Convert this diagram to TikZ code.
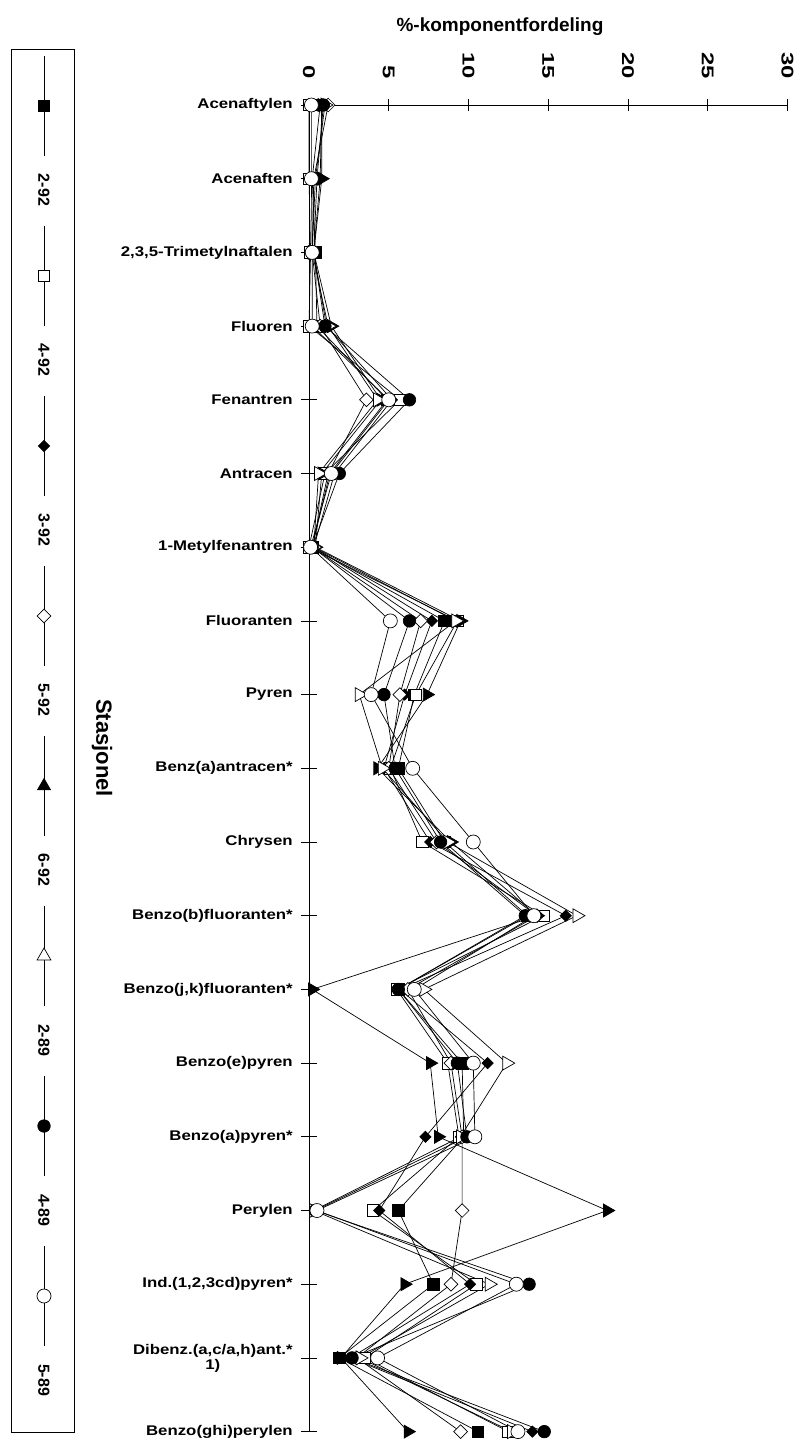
\documentclass[tikz,border=0pt]{standalone}
\usepackage{fontspec}
\setmainfont{Liberation Sans}
\newfontfamily\catfont{Liberation Sans}[FakeStretch=1.2]
\newfontfamily\tickfont{Liberation Sans}[FakeStretch=1.4]
\usetikzlibrary{positioning, shapes.geometric}

% number / station / marker / values (one per component, top to bottom)
\newcommand{\stationdata}{%
  1/2-92/sqfill/{0.7,0.2,0.4,0.5,4.9,1.3,0.2,8.5,6.6,5.6,8.5,13.7,5.6,9.6,9.7,5.6,7.8,1.9,10.6},
  2/4-92/sqopen/{0,0,0.1,0,5.7,1.0,0,9.3,6.7,5.1,7.1,14.7,5.5,8.7,9.4,4.0,10.5,3.5,12.5},
  3/3-92/dmfill/{0.8,0.7,0.3,1.1,5.2,1.6,0.3,7.7,6.0,4.7,7.6,16.1,5.7,11.2,7.3,4.4,10.1,2.6,14.0},
  4/5-92/dmopen/{1.2,0.3,0.2,0.7,3.6,1.2,0.2,7.0,5.7,5.0,8.0,14.3,6.2,8.9,9.6,9.6,8.9,3.0,9.5},
  5/6-92/trfill/{0.8,0.8,0.3,1.4,4.5,0.8,0.4,9.5,7.4,4.3,8.9,14.3,0.2,7.6,8.1,18.7,6.0,2.0,6.2},
  6/2-89/tropen/{1.0,0.4,0.2,1.2,4.3,0.6,0.3,9.2,3.15,4.6,8.7,16.8,7.2,12.4,9.5,0.3,11.3,3.2,12.7},
  7/4-89/cifill/{0.9,0.5,0.3,1.0,6.3,1.9,0.2,6.3,4.7,5.4,8.25,13.56,5.6,9.3,9.9,0.4,13.8,2.7,14.75},
  8/5-89/ciopen/{0.15,0.15,0.2,0.2,5.0,1.4,0.1,5.1,3.9,6.5,10.3,14.1,6.6,10.3,10.4,0.5,13.0,4.3,13.1}}

\begin{document}
\begin{tikzpicture}[x=1pt, y=-1pt, line width=0.7pt,
    mk/.style={draw, line width=0.7pt, inner sep=0pt},
    sqfill/.style={mk, rectangle, fill=black, minimum size=11.5pt},
    sqopen/.style={mk, rectangle, fill=white, minimum size=11.5pt},
    dmfill/.style={mk, diamond, fill=black, minimum size=11.5pt},
    dmopen/.style={mk, diamond, fill=white, minimum size=14pt},
    trfill/.style={mk, regular polygon, regular polygon sides=3, shape border rotate=-90, fill=black, minimum size=15pt},
    tropen/.style={mk, regular polygon, regular polygon sides=3, shape border rotate=-90, fill=white, minimum size=16pt},
    cifill/.style={mk, circle, fill=black, minimum size=12.5pt},
    ciopen/.style={mk, circle, fill=white, minimum size=14pt},
    catlabel/.style={anchor=east, inner sep=0pt, align=center, font=\catfont\bfseries\fontsize{14}{15}\selectfont},
    ticklabel/.style={rotate=-90, anchor=east, inner sep=0pt, font=\tickfont\bfseries\fontsize{17}{18}\selectfont},
    leglabel/.style={rotate=-90, inner sep=0pt, font=\bfseries\fontsize{16}{18}\selectfont}]
  \useasboundingbox (0,0) rectangle (800,1439);

  % Title and axes
  \node (title) at (500,27) [font=\bfseries\fontsize{19}{21}\selectfont] {\%-komponentfordeling};
  \coordinate (origin) at (309,105);
  \coordinate (xend) at (787.5,105);
  \coordinate (yend) at (309,1432);
  \draw (origin) -- (xend);
  \draw (origin) -- (yend);
  \foreach \t in {0,5,...,30} {
    \coordinate (xt\t) at ({309+15.95*\t},105);
    \node[ticklabel] (xl\t) at ({309+15.95*\t},79) {\t};
  }
  \foreach \t in {5,10,...,30} \draw ([yshift=6pt]xt\t) -- ([yshift=-6pt]xt\t);

  % Components
  \foreach \name [count=\k from 0] in {Acenaftylen, Acenaften, {2,3,5-Trimetylnaftalen}, Fluoren, Fenantren,
      Antracen, 1-Metylfenantren, Fluoranten, Pyren, Benz(a)antracen*, Chrysen, Benzo(b)fluoranten*,
      {Benzo(j,k)fluoranten*}, Benzo(e)pyren, Benzo(a)pyren*, Perylen, {Ind.(1,2,3cd)pyren*},
      {Dibenz.(a,c/a,h)ant.*\\1)}, Benzo(ghi)perylen} {
    \coordinate (yt\k) at (309,{105+73.7*\k});
    \node[catlabel] (c\k) at (293,{105+73.7*\k}) {\name};
    \draw ([xshift=-8pt]yt\k) -- ([xshift=8pt]yt\k);
  }

  % Lines
  \foreach \n/\st/\sty/\vals in \stationdata {
    \foreach \v [count=\k from 0] in \vals
      \coordinate (p\n-\k) at ({309+15.95*\v},{105+73.7*\k});
    \draw (p\n-0) \foreach \k in {1,...,18} {-- (p\n-\k)};
  }

  % Markers
  \foreach \n/\st/\sty/\vals in \stationdata
    \foreach \k in {0,...,18}
      \node[\sty] (m\n-\k) at (p\n-\k) {};

  % Legend
  \draw (11,49) rectangle (74,1432);
  \foreach \n/\st/\sty/\vals in \stationdata {
    \coordinate (l\n) at (44,{106+170*(\n-1)});
    \draw ([yshift=50pt]l\n) -- ([yshift=-50pt]l\n);
    \node[\sty, shape border rotate=0] (lm\n) at (l\n) {};
    \node[leglabel] (ll\n) at ([yshift=-84pt]l\n) {\st};
  }
  \node (legtitle) at (102,748) [rotate=-90, font=\bfseries\fontsize{22}{24}\selectfont] {Stasjonel};
\end{tikzpicture}
\end{document}
